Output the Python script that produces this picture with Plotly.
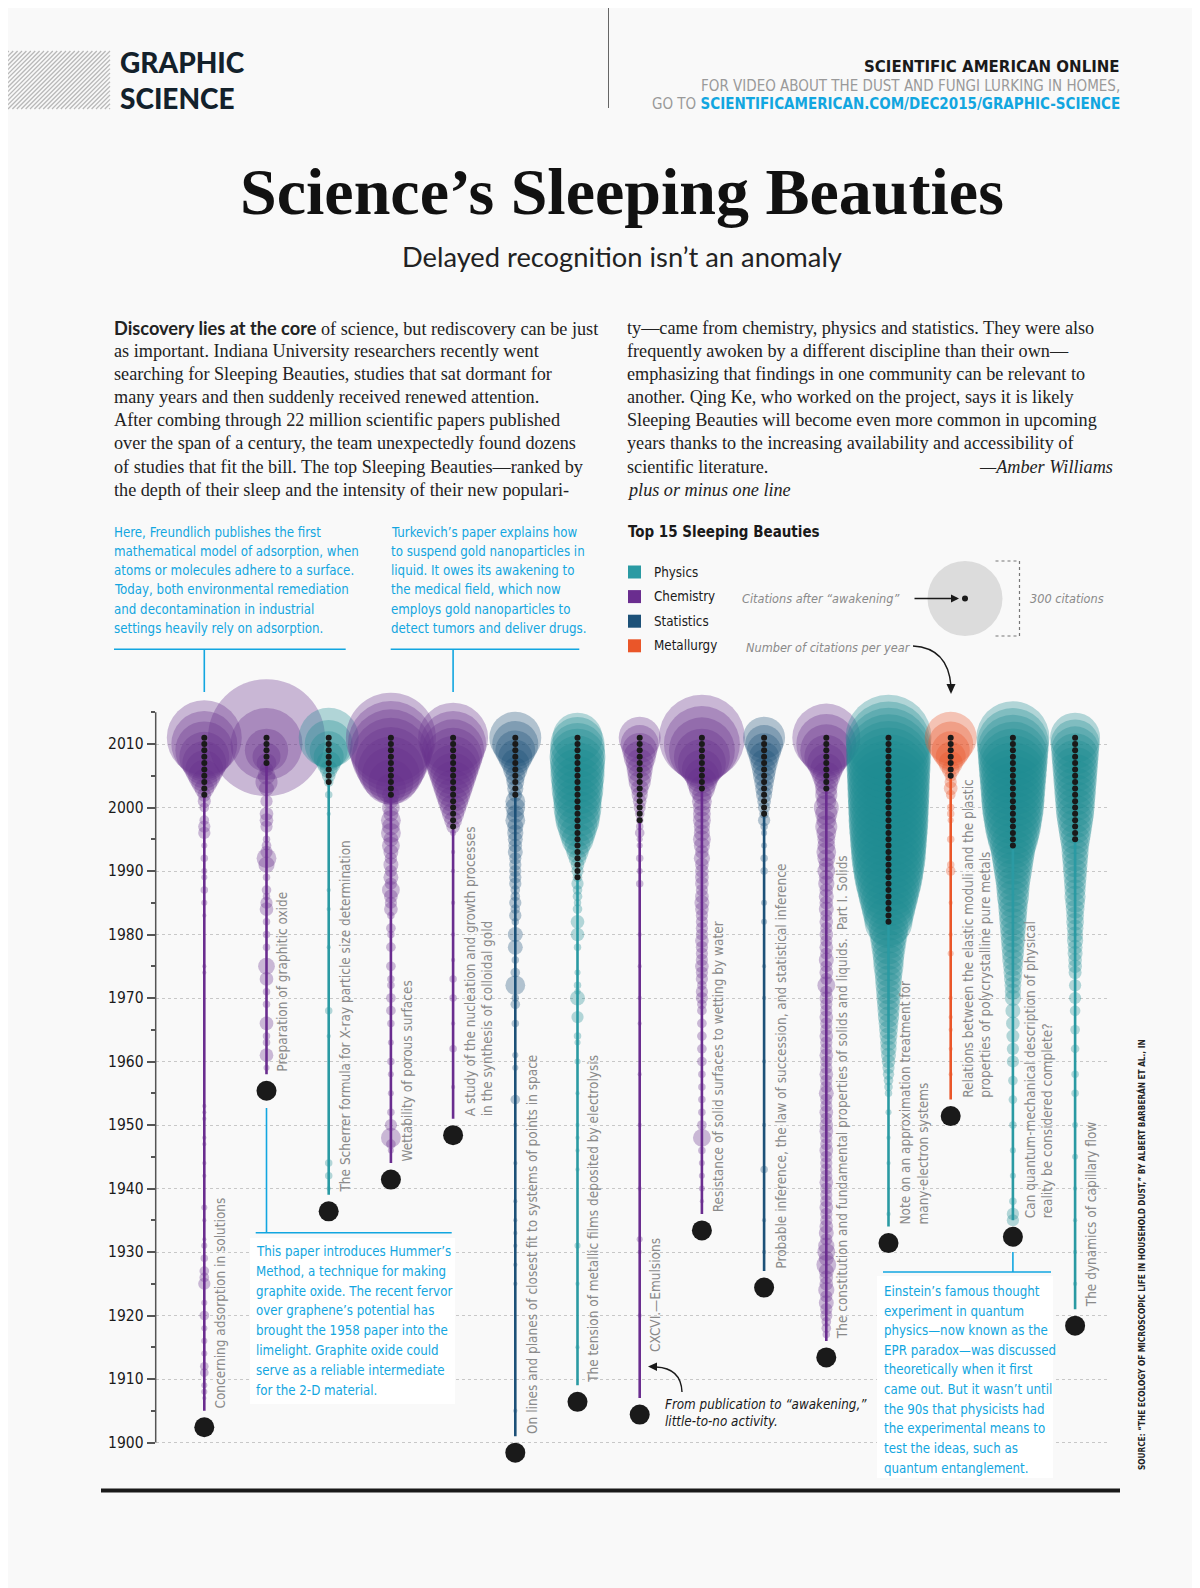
import numpy as np
import plotly.graph_objects as go

W, H = 1200, 1588

# ---------------- data ----------------
titles = [
    "Concerning adsorption in solutions",
    "Preparation of graphitic oxide",
    "The Scherrer formula for X-ray particle size determination",
    "Wettability of porous surfaces",
    "A study of the nucleation and growth processes<br>in the synthesis of colloidal gold",
    "On lines and planes of closest fit to systems of points in space",
    "The tension of metallic films deposited by electrolysis",
    "CXCVI.—Emulsions",
    "Resistance of solid surfaces to wetting by water",
    "Probable inference, the law of succession, and statistical inference",
    "The constitution and fundamental properties of solids and liquids.  Part I. Solids",
    "Note on an approximation treatment for<br>many-electron systems",
    "Relations between the elastic moduli and the plastic<br>properties of polycrystalline pure metals",
    "Can quantum-mechanical description of physical<br>reality be considered complete?",
    "The dynamics of capillary flow",
]
fields = ["Chemistry", "Chemistry", "Physics", "Chemistry", "Chemistry", "Statistics", "Physics",
          "Chemistry", "Chemistry", "Statistics", "Chemistry", "Physics", "Metallurgy", "Physics", "Physics"]
pub_years = [1905, 1958, 1939, 1944, 1951, 1901, 1909, 1907, 1936, 1927, 1916, 1934, 1954, 1935, 1921]
awake_years = [2002, 2007, 2004, 2002, 1997, 2002, 1989, 1998, 2003, 1999, 2003, 1982, 2005, 1994, 1995]
last_year = 2011

# citations per year after awakening (awake year .. 2011)
awake_freundlich = [10, 21, 36, 55, 77, 103, 133, 179, 232, 300]
awake_hummers = [21, 42, 100, 276, 730]
awake_patterson = [5, 10, 17, 31, 48, 77, 123, 192]
awake_cassie = [17, 48, 108, 179, 232, 276, 324, 359, 394, 432]
awake_turkevich = [10, 17, 26, 36, 48, 62, 77, 94, 113, 133, 156, 179, 205, 232, 261]
awake_pearson = [10, 14, 17, 21, 31, 42, 62, 85, 113, 144]
awake_stoney = [5, 8, 10, 17, 26, 36, 55, 69, 85, 103, 113, 123, 123, 133, 144, 144, 156, 156, 161, 167, 161, 156, 133]
awake_pickering = [3, 5, 8, 10, 14, 17, 26, 31, 36, 42, 55, 65, 77, 94]
awake_wenzel = [36, 48, 62, 85, 123, 167, 232, 308, 394]
awake_wilson = [5, 8, 10, 14, 17, 21, 26, 31, 39, 48, 62, 77, 94]
awake_langmuir = [26, 31, 42, 55, 77, 103, 144, 192, 247]
awake_moller = [123, 133, 150, 167, 186, 205, 225, 247, 261, 276, 292, 300, 308, 316, 324, 333, 341, 341,
                350, 350, 359, 359, 367, 367, 376, 376, 385, 385, 385, 394]
awake_pugh = [8, 17, 31, 48, 77, 108, 144]
awake_epr = [113, 133, 150, 167, 179, 192, 205, 212, 218, 225, 232, 239, 247, 254, 261, 269, 276, 284]
awake_washburn = [48, 55, 62, 69, 77, 81, 85, 90, 94, 99, 103, 108, 113, 118, 123, 128, 133]

# citations per year while "sleeping" (year: citations)
sleep_freundlich = {2001: 9, 2000: 5, 1998: 5, 1997: 8, 1996: 8, 1994: 2, 1992: 3, 1990: 2, 1989: 2, 1987: 3,
                    1985: 2, 1983: 1, 1975: 1, 1974: 1, 1953: 1, 1952: 1, 1951: 1, 1948: 1, 1947: 1, 1944: 1,
                    1942: 1, 1937: 2, 1935: 1, 1932: 1, 1931: 2, 1929: 3, 1927: 5, 1926: 5, 1925: 8, 1922: 2,
                    1920: 5, 1918: 2, 1916: 2, 1914: 2, 1912: 4, 1911: 4, 1909: 2, 1908: 2, 1907: 1}
sleep_hummers = {2006: 10, 2005: 17, 2004: 26, 2003: 12, 2001: 8, 1999: 10, 1998: 10, 1997: 8, 1995: 3,
                 1994: 5, 1993: 8, 1992: 21, 1991: 14, 1989: 3, 1987: 5, 1986: 3, 1985: 8, 1984: 10, 1982: 3,
                 1980: 3, 1978: 3, 1975: 15, 1973: 10, 1971: 3, 1969: 3, 1966: 10, 1964: 3, 1963: 3,
                 1961: 10, 1959: 2}
sleep_patterson = {2002: 3, 1999: 1, 1987: 1, 1984: 1, 1978: 1, 1968: 3, 1964: 1, 1944: 3, 1942: 3, 1940: 1}
sleep_cassie = {2001: 12, 2000: 17, 1999: 12, 1998: 21, 1997: 17, 1996: 21, 1995: 12, 1994: 17, 1993: 12,
                1992: 8, 1991: 12, 1990: 8, 1989: 12, 1988: 8, 1987: 17, 1986: 10, 1985: 8, 1984: 10,
                1983: 3, 1981: 5, 1980: 3, 1978: 5, 1975: 5, 1973: 3, 1972: 3, 1970: 5, 1968: 5, 1966: 3,
                1963: 2, 1960: 3, 1958: 2, 1955: 2, 1952: 3, 1950: 8, 1948: 21, 1947: 5, 1946: 2}
sleep_turkevich = {1996: 2, 1993: 1, 1990: 1, 1985: 1, 1980: 1, 1976: 1, 1973: 3, 1970: 3, 1966: 1,
                   1962: 3, 1956: 1}
sleep_pearson = {2001: 21, 2000: 21, 1999: 17, 1998: 21, 1997: 14, 1996: 14, 1995: 12, 1994: 10, 1993: 12,
                 1992: 8, 1991: 8, 1990: 8, 1989: 8, 1988: 8, 1987: 5, 1986: 5, 1985: 8, 1984: 5, 1983: 8,
                 1982: 3, 1980: 12, 1978: 12, 1976: 3, 1974: 5, 1972: 21, 1970: 3, 1969: 5, 1966: 3,
                 1961: 2, 1959: 2, 1954: 5, 1950: 1, 1944: 1, 1938: 1, 1935: 1, 1933: 1, 1931: 1, 1928: 1,
                 1925: 1, 1905: 1}
sleep_stoney = {1988: 8, 1987: 5, 1986: 5, 1985: 3, 1984: 5, 1982: 10, 1980: 10, 1978: 3, 1974: 2, 1972: 3,
                1971: 2, 1970: 12, 1967: 8, 1964: 3, 1963: 2, 1960: 2, 1955: 1, 1950: 1, 1948: 1, 1946: 1,
                1943: 1, 1931: 2, 1925: 1, 1915: 1}
sleep_pickering = {1997: 3, 1996: 5, 1995: 2, 1994: 2, 1992: 3, 1990: 2, 1988: 3, 1980: 1, 1975: 1, 1970: 1,
                   1966: 1, 1958: 1, 1950: 1, 1940: 1, 1932: 2, 1930: 1, 1920: 1}
sleep_wenzel = {2002: 21, 2001: 21, 2000: 17, 1999: 17, 1998: 17, 1997: 14, 1996: 14, 1995: 17, 1994: 14,
                1993: 10, 1992: 14, 1991: 10, 1990: 10, 1989: 10, 1988: 10, 1987: 8, 1986: 10, 1985: 12,
                1984: 10, 1983: 8, 1982: 8, 1981: 8, 1980: 8, 1979: 10, 1978: 8, 1977: 8, 1976: 8, 1975: 10,
                1974: 8, 1973: 8, 1972: 5, 1971: 8, 1970: 8, 1969: 5, 1968: 5, 1966: 5, 1964: 5, 1962: 5,
                1960: 5, 1958: 3, 1956: 3, 1954: 3, 1952: 3, 1950: 5, 1948: 17, 1946: 3, 1944: 2, 1942: 2,
                1940: 2, 1938: 1}
sleep_wilson = {1998: 8, 1997: 3, 1996: 2, 1994: 2, 1992: 3, 1990: 3, 1985: 2, 1982: 2, 1975: 1, 1970: 1,
                1960: 1, 1950: 1, 1943: 3, 1935: 1, 1930: 1}
sleep_langmuir = {2002: 26, 2001: 21, 2000: 33, 1999: 26, 1998: 21, 1997: 26, 1996: 21, 1995: 17, 1994: 17,
                  1993: 21, 1992: 17, 1991: 12, 1990: 17, 1989: 12, 1988: 14, 1987: 10, 1986: 12, 1985: 10,
                  1984: 12, 1983: 8, 1982: 10, 1981: 8, 1980: 10, 1979: 8, 1978: 10, 1977: 8, 1976: 12,
                  1975: 8, 1974: 10, 1973: 8, 1972: 17, 1971: 8, 1970: 10, 1969: 8, 1968: 8, 1967: 10,
                  1966: 8, 1965: 8, 1964: 10, 1963: 8, 1962: 8, 1961: 10, 1960: 8, 1959: 8, 1958: 10,
                  1957: 8, 1956: 8, 1955: 12, 1954: 8, 1953: 8, 1952: 10, 1951: 8, 1950: 10, 1949: 10,
                  1948: 8, 1947: 8, 1946: 10, 1945: 8, 1944: 8, 1943: 8, 1942: 8, 1941: 10, 1940: 8,
                  1939: 8, 1938: 8, 1937: 10, 1936: 8, 1935: 8, 1934: 10, 1933: 12, 1932: 8, 1931: 14,
                  1930: 17, 1929: 12, 1928: 21, 1927: 12, 1926: 10, 1925: 10, 1924: 14, 1923: 8, 1922: 12,
                  1921: 8, 1920: 8, 1919: 5, 1918: 5, 1917: 3}
sleep_moller = {1981: 85, 1980: 77, 1979: 69, 1978: 62, 1977: 55, 1976: 51, 1975: 48, 1974: 42, 1973: 39,
                1972: 36, 1971: 33, 1970: 31, 1969: 28, 1968: 26, 1967: 24, 1966: 21, 1965: 19, 1964: 17,
                1963: 15, 1962: 14, 1961: 12, 1960: 10, 1959: 8, 1958: 7, 1957: 5, 1956: 4, 1955: 3,
                1952: 2, 1948: 1, 1944: 1, 1940: 0.5, 1936: 1}
sleep_pugh = {2004: 8, 2003: 10, 2002: 5, 2000: 3, 1999: 3, 1998: 2, 1995: 3, 1991: 3, 1990: 5, 1985: 1,
              1980: 1, 1977: 2, 1970: 1, 1967: 1, 1965: 1, 1962: 1, 1958: 1}
sleep_epr = {1993: 103, 1992: 94, 1991: 85, 1990: 77, 1989: 69, 1988: 62, 1987: 58, 1986: 55, 1985: 48,
             1984: 45, 1983: 42, 1982: 39, 1981: 36, 1980: 33, 1979: 31, 1978: 28, 1977: 26, 1976: 24,
             1975: 21, 1974: 19, 1973: 17, 1972: 15, 1971: 14, 1970: 14, 1968: 12, 1966: 10, 1964: 9,
             1962: 8, 1960: 8, 1957: 5, 1954: 4, 1950: 3, 1946: 2, 1942: 2, 1938: 3, 1936: 8, 1935: 8}
sleep_washburn = {1994: 42, 1993: 39, 1992: 36, 1991: 33, 1990: 31, 1989: 28, 1988: 26, 1987: 24, 1986: 24,
                  1985: 21, 1984: 19, 1983: 17, 1982: 17, 1981: 15, 1980: 14, 1979: 14, 1978: 12, 1977: 12,
                  1976: 10, 1975: 10, 1974: 9, 1972: 8, 1970: 8, 1968: 6, 1965: 5, 1962: 4, 1958: 3,
                  1955: 3, 1950: 2, 1945: 2, 1940: 1, 1935: 1, 1930: 1, 1925: 1}

awake_cites = [awake_freundlich, awake_hummers, awake_patterson, awake_cassie, awake_turkevich,
               awake_pearson, awake_stoney, awake_pickering, awake_wenzel, awake_wilson, awake_langmuir,
               awake_moller, awake_pugh, awake_epr, awake_washburn]
sleep_cites = [sleep_freundlich, sleep_hummers, sleep_patterson, sleep_cassie, sleep_turkevich,
               sleep_pearson, sleep_stoney, sleep_pickering, sleep_wenzel, sleep_wilson, sleep_langmuir,
               sleep_moller, sleep_pugh, sleep_epr, sleep_washburn]

year_ticks = list(range(1900, 2011, 10))
minor_ticks = list(range(1905, 2016, 10))
legend_fields = ["Physics", "Chemistry", "Statistics", "Metallurgy"]
legend_ref_citations = 300

# ---------------- style ----------------
COLORS = {"Physics": "#2a9aa3", "Chemistry": "#6a2d8f", "Statistics": "#1d5178", "Metallurgy": "#ea5629"}
BUBBLE = {"Physics": "#1e8c93", "Chemistry": "#66308c", "Statistics": "#1d5178", "Metallurgy": "#ea5629"}
CYAN = "#12a6e0"
BLACK = "#1a1a1a"
GRAY_TXT = "#8a8a8a"
BG = "#f9f9f9"
COND = "'DejaVu Sans Condensed', 'Liberation Sans Narrow', sans-serif"
SERIF = "'Liberation Serif', 'DejaVu Serif', serif"
SANS = "Lato, 'Open Sans', sans-serif"

REF_DIAM = 75.0        # px diameter of a 300-citation bubble


def diam(c):
    return REF_DIAM * np.sqrt(np.asarray(c, dtype=float) / legend_ref_citations)


# pixel geometry (page pixels); the page body adds an 8px margin
OFF = 8.0
COL0_PX, COL_STEP = 204.3, 62.2
AX_LEFT, AX_RIGHT = 155.7, 1108.0
Y_1900_PX, PX_PER_YEAR = 1442.5, 6.35
DOM_TOP, DOM_BOT = 640.0, 1475.0
DOT_DROP = 2.6          # big publication dot sits just below the line start


def X(p):
    return (p - OFF) / W


def Y(p):
    return 1 - (p - OFF) / H


fig = go.Figure()

# bubbles
for i in range(15):
    col = BUBBLE[fields[i]]
    sy = sorted(sleep_cites[i].keys())
    yrs = sy + list(range(awake_years[i], last_year + 1))
    cit = [sleep_cites[i][k] for k in sy] + list(awake_cites[i])
    assert len(awake_cites[i]) == last_year - awake_years[i] + 1
    fig.add_trace(go.Scatter(
        x=[i] * len(yrs), y=yrs, mode="markers", cliponaxis=False, hoverinfo="skip",
        marker=dict(size=diam(cit), color=col, opacity=0.33, line=dict(width=0)),
        showlegend=False))

# stems
for i in range(15):
    fig.add_trace(go.Scatter(
        x=[i, i], y=[pub_years[i], awake_years[i]], mode="lines", cliponaxis=False,
        line=dict(color=COLORS[fields[i]], width=2.6), hoverinfo="skip", showlegend=False))

# awake dots
ax_, ay_ = [], []
for i in range(15):
    for yv in range(awake_years[i], last_year + 1):
        ax_.append(i)
        ay_.append(yv)
fig.add_trace(go.Scatter(x=ax_, y=ay_, mode="markers", cliponaxis=False, hoverinfo="skip",
                         marker=dict(size=6, color=BLACK), showlegend=False))
# publication dots
fig.add_trace(go.Scatter(x=list(range(15)), y=[p - DOT_DROP for p in pub_years], mode="markers",
                         cliponaxis=False, hoverinfo="skip",
                         marker=dict(size=20, color=BLACK), showlegend=False))

shapes = []
ann = []


def line_px(x0, y0, x1, y1, color, width, dash=None):
    d = dict(type="line", xref="paper", yref="paper", x0=X(x0), y0=Y(y0), x1=X(x1), y1=Y(y1),
             line=dict(color=color, width=width), layer="above")
    if dash:
        d["line"]["dash"] = dash
    shapes.append(d)


def text(x, y, s, size, color, family, xanchor="left", yanchor="middle", **kw):
    a = dict(x=X(x), y=Y(y), xref="paper", yref="paper", text=s, showarrow=False,
             xanchor=xanchor, yanchor=yanchor, font=dict(size=size, color=color, family=family))
    a.update(kw)
    ann.append(a)


# y axis line (1900-2015)
shapes.append(dict(type="line", xref="x domain", yref="y", x0=0, x1=0, y0=1900, y1=2015,
                   line=dict(color="#555", width=1.5)))

# column labels
label_shift = {7: 6.9}
for i in range(15):
    n = titles[i].count("<br>") + 1
    off = (16 + 9.5 * (n - 1)) / COL_STEP
    ann.append(dict(x=i + off, y=pub_years[i] + label_shift.get(i, 0), xref="x", yref="y",
                    text=titles[i], textangle=-90, showarrow=False, xanchor="center", yanchor="bottom",
                    align="left", font=dict(size=13.5, color=GRAY_TXT, family=COND)))

# ---------- header ----------
x0h, x1h, yt, yb = 0.0, 110.0, 51.0, 109.0
h = yb - yt
c = -h
while c < x1h:
    xa = max(c, x0h)
    xb = min(c + h, x1h)
    if xb > xa:
        line_px(xa, yb - (xa - c), xb, yb - (xb - c), "#b8b8b8", 1.3)
    c += 4.4
a_g = dict(x=X(119), y=Y(80), xref="paper", yref="paper", text="GRAPHIC", showarrow=False,
           xanchor="left", yanchor="bottom", borderpad=0,
           font=dict(size=28, color="#13212b", family=SANS, weight=900))
a_s = dict(a_g, y=Y(80), text="SCIENCE", yanchor="top")
ann.extend([a_g, a_s])
line_px(608.5, 0, 608.5, 108, "#666", 1)
text(1122, 67, "<b>SCIENTIFIC AMERICAN ONLINE</b>", 15, "#1a1a1a", "'DejaVu Sans', sans-serif",
     xanchor="right")
text(1122, 86, "FOR VIDEO ABOUT THE DUST AND FUNGI LURKING IN HOMES,", 15, "#9a9a9a", COND, xanchor="right")
text(1122, 104, "GO TO <span style='color:%s'><b>SCIENTIFICAMERICAN.COM/DEC2015/GRAPHIC-SCIENCE</b></span>"
     % CYAN, 15, "#9a9a9a", COND, xanchor="right")

# title
text(622, 191, "<b>Science’s Sleeping Beauties</b>", 66, "#111", SERIF, xanchor="center")
text(622, 256, "Delayed recognition isn’t an anomaly", 27.3, "#222", SANS, xanchor="center")

# body text
left_lines = [
    "<span style='font-family:Lato, sans-serif'><b>Discovery lies at the core</b></span> of science, but rediscovery can be just",
    "as important. Indiana University researchers recently went",
    "searching for Sleeping Beauties, studies that sat dormant for",
    "many years and then suddenly received renewed attention.",
    "After combing through 22 million scientific papers published",
    "over the span of a century, the team unexpectedly found dozens",
    "of studies that fit the bill. The top Sleeping Beauties—ranked by",
    "the depth of their sleep and the intensity of their new populari-",
]
right_lines = [
    "ty—came from chemistry, physics and statistics. They were also",
    "frequently awoken by a different discipline than their own—",
    "emphasizing that findings in one community can be relevant to",
    "another. Qing Ke, who worked on the project, says it is likely",
    "Sleeping Beauties will become even more common in upcoming",
    "years thanks to the increasing availability and accessibility of",
    "scientific literature.",
    "<i>plus or minus one line</i>",
]
for k, s in enumerate(left_lines):
    text(112, 328 + 23.1 * k, s, 18.2, "#222", SERIF)
for k, s in enumerate(right_lines):
    text(625, 328 + 23.1 * k, s, 18.2, "#222", SERIF)
text(1115, 328 + 23.1 * 6, "<i>—Amber Williams</i>", 18.2, "#222", SERIF, xanchor="right")

# cyan callouts
callout1 = ["Here, Freundlich publishes the first", "mathematical model of adsorption, when",
            "atoms or molecules adhere to a surface.", "Today, both environmental remediation",
            "and decontamination in industrial", "settings heavily rely on adsorption."]
callout2 = ["Turkevich’s paper explains how", "to suspend gold nanoparticles in",
            "liquid. It owes its awakening to", "the medical field, which now",
            "employs gold nanoparticles to", "detect tumors and deliver drugs."]
callout3 = ["This paper introduces Hummer’s", "Method, a technique for making",
            "graphite oxide. The recent fervor", "over graphene’s potential has",
            "brought the 1958 paper into the", "limelight. Graphite oxide could",
            "serve as a reliable intermediate", "for the 2-D material."]
callout4 = ["Einstein’s famous thought", "experiment in quantum", "physics—now known as the",
            "EPR paradox—was discussed", "theoretically when it first", "came out. But it wasn’t until",
            "the 90s that physicists had", "the experimental means to", "test the ideas, such as",
            "quantum entanglement."]
CF = 13.2
for k, s in enumerate(callout1):
    text(112, 532 + 19.33 * k, s, CF, CYAN, COND)
for k, s in enumerate(callout2):
    text(388.5, 532 + 19.33 * k, s, CF, CYAN, COND)
# rules + connectors (top)
line_px(114, 649.3, 345.7, 649.3, CYAN, 1.6)
line_px(390.7, 649.3, 579.3, 649.3, CYAN, 1.6)
shapes.append(dict(type="line", xref="x", yref="paper", x0=0, x1=0, y0=Y(649.3), y1=Y(692),
                   line=dict(color=CYAN, width=1.6), layer="above"))
shapes.append(dict(type="line", xref="x", yref="paper", x0=4, x1=4, y0=Y(649.3), y1=Y(692),
                   line=dict(color=CYAN, width=1.6), layer="above"))
# Hummers box
shapes.append(dict(type="rect", xref="paper", yref="paper", x0=X(250), x1=X(455), y0=Y(1238), y1=Y(1404),
                   fillcolor="white", line=dict(width=0), layer="above"))
shapes.append(dict(type="line", xref="x", yref="paper", x0=1, x1=1, y0=Y(1108), y1=Y(1232.7),
                   line=dict(color=CYAN, width=1.6), layer="above"))
line_px(255.7, 1232.7, 451.7, 1232.7, CYAN, 1.6)
for k, s in enumerate(callout3):
    text(254, 1251.7 + 19.76 * k, s, CF, CYAN, COND)
# Einstein box
shapes.append(dict(type="rect", xref="paper", yref="paper", x0=X(877), x1=X(1053), y0=Y(1276), y1=Y(1478),
                   fillcolor="white", line=dict(width=0), layer="above"))
shapes.append(dict(type="line", xref="x", yref="paper", x0=13, x1=13, y0=Y(1252), y1=Y(1272),
                   line=dict(color=CYAN, width=1.6), layer="above"))
line_px(883, 1272, 1051, 1272, CYAN, 1.6)
for k, s in enumerate(callout4):
    text(881.5, 1291.5 + 19.62 * k, s, CF, CYAN, COND)

# "From publication" note
text(663, 1404.5, "<i>From publication to “awakening,”</i>", 13.3, "#1a1a1a", COND)
text(663, 1421.8, "<i>little-to-no activity.</i>", 13.3, "#1a1a1a", COND)
shapes.append(dict(type="path", xref="paper", yref="paper",
                   path="M %f,%f Q %f,%f %f,%f" % (X(682), Y(1392), X(681), Y(1368), X(656), Y(1367)),
                   line=dict(color="#1a1a1a", width=1.4), layer="above"))
shapes.append(dict(type="path", xref="paper", yref="paper",
                   path="M %f,%f L %f,%f L %f,%f Z" % (X(648), Y(1366.5), X(657), Y(1362.5), X(657), Y(1371)),
                   fillcolor="#1a1a1a", line=dict(width=0), layer="above"))

# ---------- legend ----------
text(626, 532, "<b>Top 15 Sleeping Beauties</b>", 15, "#1a1a1a", COND)
for k, f in enumerate(legend_fields):
    yc = 572 + 24.6 * k
    shapes.append(dict(type="rect", xref="paper", yref="paper", x0=X(628), x1=X(641), y0=Y(yc - 6.5),
                       y1=Y(yc + 6.5), fillcolor=COLORS[f], line=dict(width=0), layer="above"))
    text(652, yc, f, 13.3, "#1a1a1a", COND)
cx, cy = 965.0, 598.5
r = float(diam(legend_ref_citations)) / 2
shapes.append(dict(type="circle", xref="paper", yref="paper", x0=X(cx - r), x1=X(cx + r), y0=Y(cy + r),
                   y1=Y(cy - r), fillcolor="#dcdcdc", line=dict(width=0), layer="above"))
shapes.append(dict(type="circle", xref="paper", yref="paper", x0=X(cx - 3), x1=X(cx + 3), y0=Y(cy + 3),
                   y1=Y(cy - 3), fillcolor=BLACK, line=dict(width=0), layer="above"))
bx = cx + r + 17
line_px(bx, cy - r, bx, cy + r, "#777", 1.2, "dot")
line_px(bx - 24, cy - r, bx, cy - r, "#777", 1.2, "dot")
line_px(bx - 24, cy + r, bx, cy + r, "#777", 1.2, "dot")
text(902, 598, "<i>Citations after “awakening”</i>", 12.6, GRAY_TXT, COND, xanchor="right")
text(bx + 8, 598, "<i>300 citations</i>", 12.6, GRAY_TXT, COND)
ann.append(dict(x=X(cx - 6), y=Y(cy), xref="paper", yref="paper", text="", showarrow=True,
                ax=-46, ay=0, arrowhead=2, arrowsize=1, arrowwidth=1.6, arrowcolor="#1a1a1a"))
text(744, 648, "<i>Number of citations per year</i>", 12.6, GRAY_TXT, COND)
shapes.append(dict(type="path", xref="paper", yref="paper",
                   path="M %f,%f Q %f,%f %f,%f" % (X(913), Y(646), X(948), Y(648), X(951), Y(686)),
                   line=dict(color="#1a1a1a", width=1.4), layer="above"))
shapes.append(dict(type="path", xref="paper", yref="paper",
                   path="M %f,%f L %f,%f L %f,%f Z" % (X(946.5), Y(684), X(955.5), Y(684), X(951), Y(694)),
                   fillcolor="#1a1a1a", line=dict(width=0), layer="above"))

# source (vertical)
text(1141, 1255, '<b>SOURCE: “THE ECOLOGY OF MICROSCOPIC LIFE IN HOUSEHOLD DUST,” BY ALBERT BARBERÁN ET AL., IN</b>',
     8.2, "#222", COND, xanchor="center", textangle=-90)

# bottom rule
line_px(101, 1490.5, 1120, 1490.5, "#1a1a1a", 4)

x_range = [(AX_LEFT - COL0_PX) / COL_STEP, (AX_RIGHT - COL0_PX) / COL_STEP]
y_range = [1900 - (DOM_BOT - Y_1900_PX) / PX_PER_YEAR, 1900 + (Y_1900_PX - DOM_TOP) / PX_PER_YEAR]

fig.update_layout(
    width=W, height=H, margin=dict(l=0, r=0, t=0, b=0, pad=0),
    paper_bgcolor=BG, plot_bgcolor="rgba(0,0,0,0)", showlegend=False,
    xaxis=dict(domain=[X(AX_LEFT), X(AX_RIGHT)], range=x_range, visible=False, fixedrange=True),
    yaxis=dict(domain=[Y(DOM_BOT), Y(DOM_TOP)], range=y_range, tickmode="array", tickvals=year_ticks,
               ticks="outside", ticklen=8, tickwidth=1.5, tickcolor="#555",
               tickfont=dict(size=15.5, color="#1a1a1a", family=COND),
               showgrid=True, gridcolor="#c8c8c8", griddash="dot", gridwidth=1,
               zeroline=False, showline=False, fixedrange=True,
               minor=dict(tickmode="array", tickvals=minor_ticks, ticks="outside", ticklen=4,
                          tickwidth=1.5, tickcolor="#555", showgrid=False)),
    shapes=shapes, annotations=ann, hovermode=False,
)

fig.write_html("out.html")
